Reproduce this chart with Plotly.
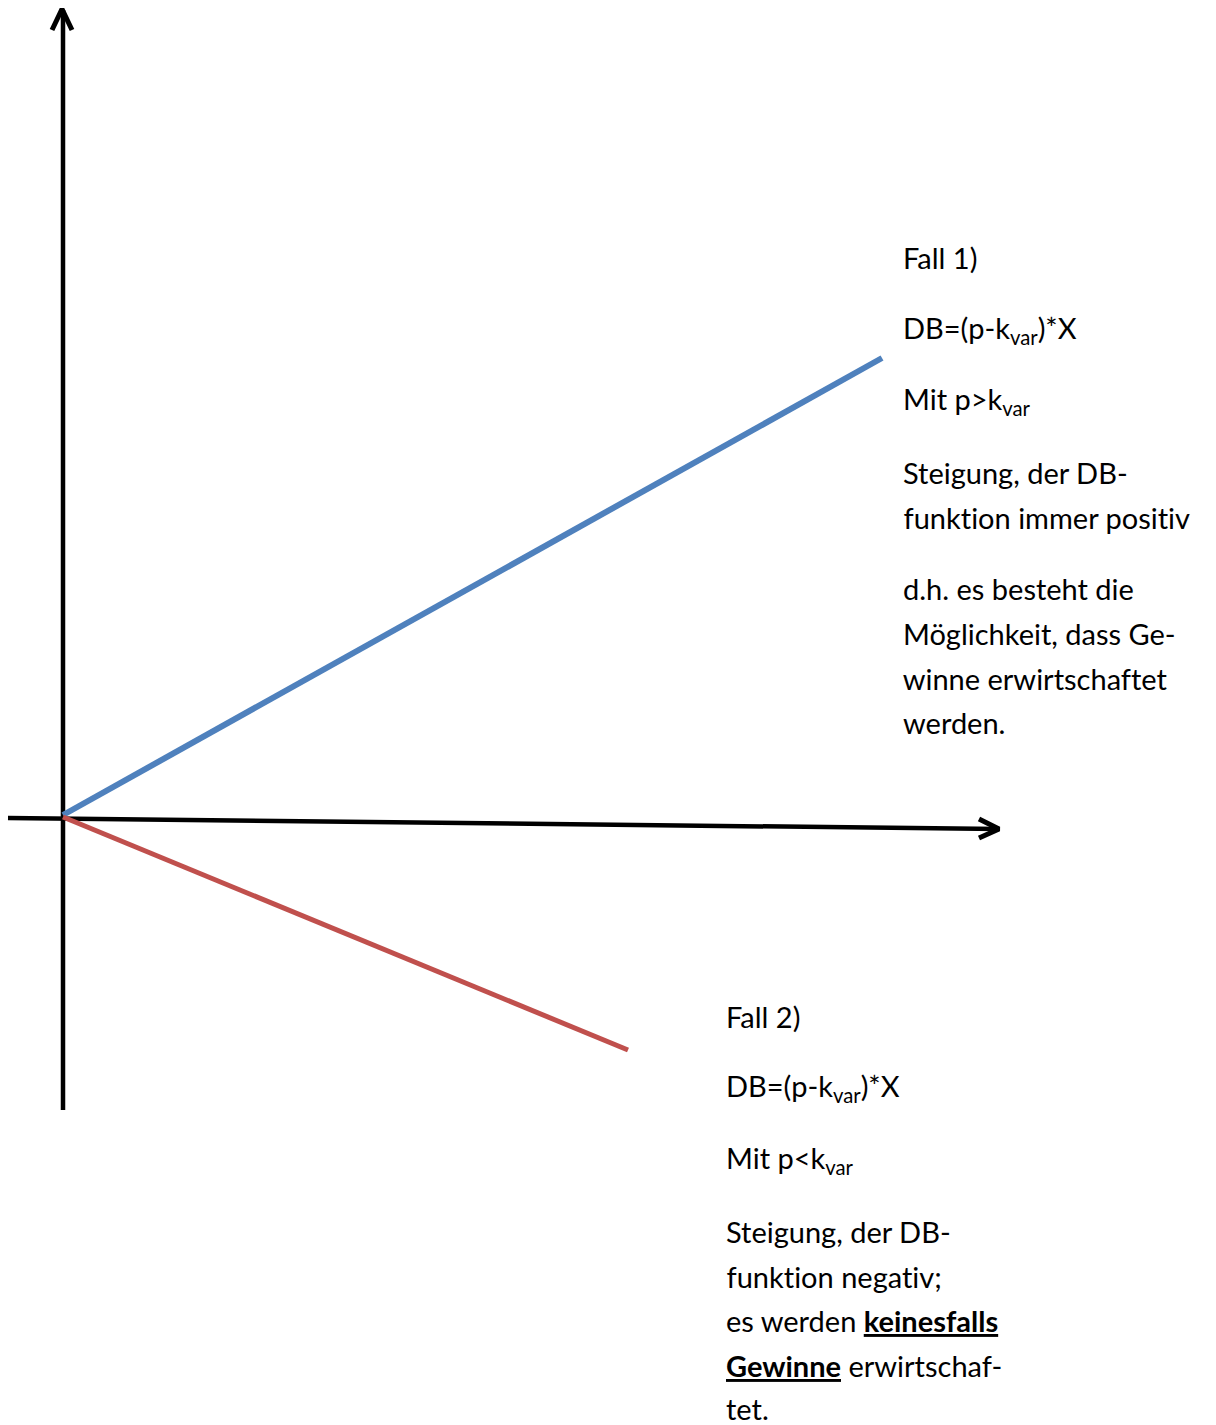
import plotly.graph_objects as go

# --- data (coordinate units: origin at axes intersection) ---
x_fall1 = [0, 819]
db_fall1 = [0, 457]
x_fall2 = [0, 565]
db_fall2 = [-2, -235]

# axes (slightly tilted x-axis as in the sketch)
xaxis_x = [-55, 936]
xaxis_y = [-3, -14]
yaxis_x = [0, 0]
yaxis_y = [-295, 805]

text_fall1 = [
    "Fall 1)",
    "DB=(p-k<sub>var</sub>)*X",
    "Mit p>k<sub>var</sub>",
    "Steigung, der DB-",
    "funktion immer positiv",
    "d.h. es besteht die",
    "Möglichkeit, dass Ge-",
    "winne erwirtschaftet",
    "werden.",
]
text_fall2 = [
    "Fall 2)",
    "DB=(p-k<sub>var</sub>)*X",
    "Mit p<k<sub>var</sub>",
    "Steigung, der DB-",
    "funktion negativ;",
    "es werden <b><u>keinesfalls</u></b>",
    "<b><u>Gewinne</u></b> erwirtschaf-",
    "tet.",
]

W, H = 1216, 1425
OX, OY = 63, 815  # pixel position of origin


def py(p):
    return OY - p


def px(p):
    return p - OX


fig = go.Figure()
black = dict(color="black", width=4.5)

# x axis line + chevron
fig.add_trace(go.Scatter(x=xaxis_x, y=xaxis_y, mode="lines", line=black, hoverinfo="skip"))
tip = (xaxis_x[1], xaxis_y[1])
fig.add_trace(go.Scatter(x=[tip[0] - 20, tip[0], tip[0] - 20], y=[tip[1] + 10, tip[1], tip[1] - 9],
                         mode="lines", line=dict(color="black", width=5), hoverinfo="skip"))
# y axis line + chevron
fig.add_trace(go.Scatter(x=yaxis_x, y=yaxis_y, mode="lines", line=black, hoverinfo="skip"))
ytip = (yaxis_x[1] - 1, yaxis_y[1] + 1)
fig.add_trace(go.Scatter(x=[ytip[0] - 10, ytip[0], ytip[0] + 10], y=[ytip[1] - 21, ytip[1], ytip[1] - 21],
                         mode="lines", line=dict(color="black", width=5), hoverinfo="skip"))

# DB functions
fig.add_trace(go.Scatter(x=x_fall1, y=db_fall1, mode="lines",
                         line=dict(color="#4F81BD", width=6), hoverinfo="skip"))
fig.add_trace(go.Scatter(x=x_fall2, y=db_fall2, mode="lines",
                         line=dict(color="#C0504D", width=5), hoverinfo="skip"))

font = dict(family="Lato, Open Sans, sans-serif", size=29, color="black")

ys1 = [257, 329, 400, 472, 517, 588, 633, 678, 722]
for t, yy in zip(text_fall1, ys1):
    fig.add_annotation(x=px(901), y=py(yy), text=t, showarrow=False,
                       xanchor="left", yanchor="middle", font=font, xref="x", yref="y")

ys2 = [1016, 1087, 1159, 1231, 1276, 1320, 1365, 1408]
for t, yy in zip(text_fall2, ys2):
    fig.add_annotation(x=px(724), y=py(yy), text=t, showarrow=False,
                       xanchor="left", yanchor="middle", font=font, xref="x", yref="y")

fig.update_layout(
    width=W, height=H,
    margin=dict(l=0, r=0, t=0, b=0),
    paper_bgcolor="white", plot_bgcolor="white",
    showlegend=False,
    xaxis=dict(range=[px(0), px(W)], visible=False, fixedrange=True),
    yaxis=dict(range=[py(H), py(0)], visible=False, fixedrange=True),
)

post = (
    "document.body.style.margin='0';document.body.style.overflow='hidden';"
    "var s=document.createElement('style');"
    "s.textContent='text{font-variant-ligatures:none;font-feature-settings:\"liga\" 0;}';"
    "document.head.appendChild(s);"
)
fig.write_html("out.html", config={"displayModeBar": False}, post_script=post)
